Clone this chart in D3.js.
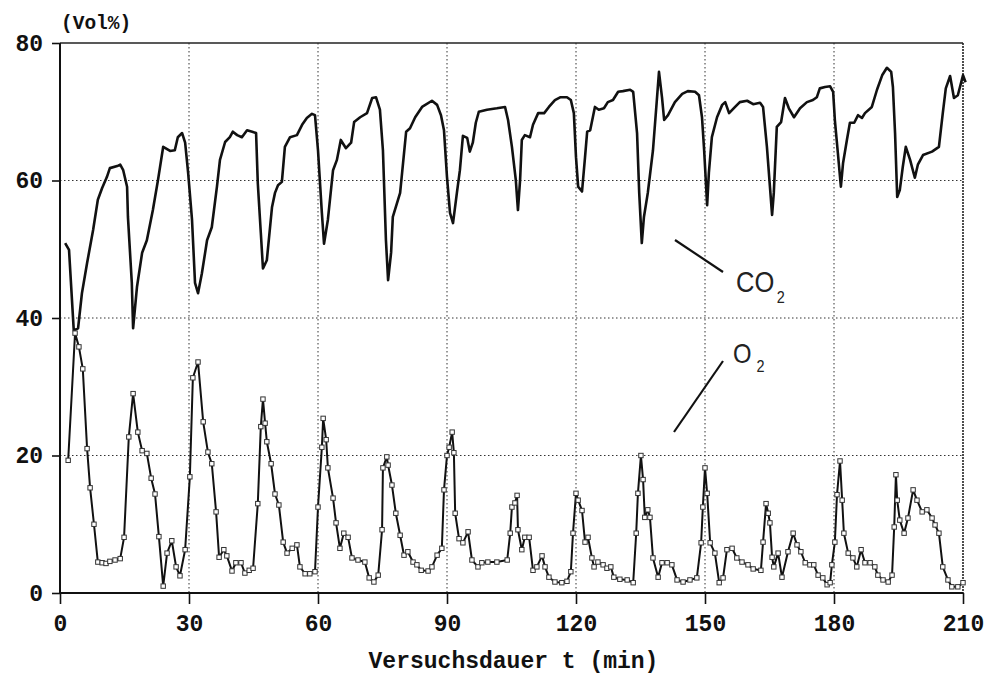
<!DOCTYPE html>
<html>
<head>
<meta charset="utf-8">
<script src="https://cdn.jsdelivr.net/npm/d3@7"></script>
<style>
  body { margin: 0; background: #fff; }
  svg { display: block; }
</style>
</head>
<body>
<div id="chart"></div>
<script>
const co2Time = [1.2, 2.1, 3.2, 4.2, 5.1, 6.3, 7.7, 8.8, 9.8, 10.9, 11.6, 13.3, 14.0, 14.7, 15.6, 15.8, 16.7, 17.0,
  17.9, 19.1, 20.2, 21.6, 22.8, 24.0, 25.6, 26.7, 27.4, 28.4, 29.1, 29.8, 30.7, 31.4, 32.1, 33.0, 34.2, 35.3,
  36.5, 37.2, 38.4, 39.5, 40.2, 41.2, 42.3, 43.5, 44.7, 45.6, 46.0, 46.7, 47.2, 48.1, 49.3, 50.0, 50.7, 51.6,
  52.3, 53.5, 55.1, 56.3, 57.4, 58.6, 59.3, 60.0, 60.9, 61.4, 62.3, 63.5, 64.4, 65.3, 66.5, 67.7, 68.4, 69.8,
  71.4, 72.6, 73.5, 74.4, 75.1, 75.8, 76.3, 77.0, 77.4, 79.1, 80.5, 81.4, 82.6, 84.2, 86.5, 87.7, 88.6, 89.3,
  90.0, 90.7, 91.4, 92.3, 93.0, 93.7, 94.7, 95.3, 96.0, 96.7, 97.4, 99.3, 101.6, 103.5, 104.2, 105.1, 106.0,
  106.5, 107.0, 107.4, 108.1, 109.3, 110.0, 111.2, 112.6, 113.7, 115.1, 116.3, 117.9, 118.8, 119.5, 120.0,
  120.5, 121.4, 122.1, 122.6, 123.3, 124.4, 125.3, 126.5, 127.4, 128.6, 129.8, 130.9, 132.6, 133.3, 134.2,
  134.7, 135.3, 135.8, 136.7, 137.9, 138.8, 139.3, 140.0, 140.5, 141.4, 143.0, 144.7, 146.0, 147.7, 148.6,
  149.3, 149.8, 150.5, 150.9, 151.6, 152.8, 154.0, 154.7, 155.6, 157.0, 158.1, 159.8, 161.2, 162.8, 163.5,
  164.4, 165.1, 165.6, 166.0, 166.7, 167.7, 168.6, 169.5, 170.7, 172.1, 173.7, 175.1, 176.0, 176.7, 177.9,
  179.1, 179.8, 180.2, 180.9, 181.6, 182.1, 183.0, 183.7, 184.7, 185.6, 186.5, 187.2, 188.8, 190.0, 191.2,
  192.3, 193.3, 193.7, 194.2, 194.7, 195.3, 196.0, 196.7, 197.7, 198.8, 199.5, 200.7, 202.8, 204.4, 205.3,
  206.0, 207.0, 207.9, 208.8, 210.0, 210.6];
const co2Vol = [50.9, 49.9, 38.2, 38.5, 43.6, 48.0, 52.8, 57.2, 58.9, 60.5, 61.8, 62.1, 62.3, 61.5, 59.1, 54.7, 45.1, 38.5,
  44.5, 49.5, 51.3, 55.7, 60.1, 64.9, 64.3, 64.4, 66.3, 66.9, 65.5, 61.1, 54.3, 45.1, 43.6, 46.5, 51.3, 53.2,
  59.1, 63.0, 65.6, 66.3, 67.1, 66.6, 66.3, 67.3, 67.1, 66.9, 59.6, 52.4, 47.2, 48.4, 56.1, 58.2, 59.3, 59.8,
  64.9, 66.3, 66.6, 68.1, 69.1, 69.7, 69.5, 64.4, 55.3, 50.8, 54.3, 61.5, 63.0, 65.9, 64.7, 65.5, 68.5, 69.2,
  69.8, 72.0, 72.1, 70.3, 64.4, 51.3, 45.5, 49.5, 54.7, 58.2, 67.1, 67.6, 69.2, 70.7, 71.6, 71.0, 69.5, 67.3,
  60.5, 55.3, 53.8, 58.2, 61.5, 66.5, 66.2, 64.2, 65.5, 68.4, 70.0, 70.3, 70.5, 70.7, 68.8, 64.9, 60.1,
  55.7, 60.1, 65.9, 66.6, 66.3, 68.1, 69.8, 69.8, 70.7, 71.7, 72.1, 72.1, 71.7, 69.8, 63.4,
  59.1, 58.4, 63.4, 67.1, 67.3, 70.7, 70.3, 70.5, 71.4, 71.7, 72.9, 73.0, 73.2, 72.9, 66.9,
  58.2, 50.9, 54.7, 58.2, 64.4, 71.7, 75.8, 72.1, 68.8, 69.5, 71.4, 72.6, 73.0, 72.9, 72.4,
  69.2, 64.4, 56.4, 61.1, 66.3, 69.2, 71.0, 71.4, 69.8, 70.7, 71.4, 71.6, 71.1, 71.3, 70.7,
  64.9, 59.1, 55.0, 58.2, 67.8, 68.5, 72.0, 70.5, 69.2, 70.5, 71.4, 71.7, 72.1, 73.4, 73.6,
  73.7, 72.9, 68.8, 64.0, 59.1, 62.5, 65.9, 68.4, 68.4, 69.5, 69.1, 69.8, 70.7, 73.2, 75.3,
  76.4, 75.8, 73.6, 66.9, 57.6, 58.6, 62.0, 64.9, 63.0, 60.4, 62.3, 63.7, 64.2, 64.9, 69.8,
  73.4, 75.2, 72.0, 72.4, 75.3, 74.3];

const o2Time = [1.9, 3.5, 4.4, 5.3, 6.3, 7.0, 7.9, 8.8, 9.8, 10.7, 11.6, 12.8, 14.0, 14.9, 16.0, 17.0, 18.1, 19.1,
  20.2, 21.2, 22.1, 23.0, 24.0, 24.9, 26.0, 27.0, 27.9, 29.1, 30.2, 30.9, 32.1, 33.3, 34.4, 35.3, 36.3, 37.0,
  38.1, 38.8, 40.0, 40.9, 42.1, 43.0, 44.0, 44.9, 46.0, 46.7, 47.2, 47.7, 48.1, 49.1, 50.0, 50.9, 51.9, 52.8,
  54.0, 55.1, 55.8, 57.0, 58.1, 59.3, 60.0, 60.9, 61.2, 61.9, 62.3, 63.5, 64.2, 65.1, 66.0, 67.0, 67.9, 69.3,
  70.9, 71.9, 73.0, 74.0, 74.9, 75.1, 76.0, 76.3, 77.2, 78.1, 79.1, 80.0, 80.9, 82.1, 83.0, 84.0, 85.6, 86.5,
  87.7, 88.8, 89.3, 90.0, 90.5, 91.2, 91.6, 91.9, 92.8, 93.7, 94.9, 95.8, 97.2, 98.1, 99.5, 101.6, 104.0,
  104.7, 105.1, 105.8, 106.3, 106.5, 107.4, 108.1, 109.1, 110.0, 110.9, 112.1, 112.8, 113.7, 115.1, 116.7,
  117.9, 118.8, 119.3, 120.0, 120.5, 121.4, 122.1, 122.8, 123.7, 124.2, 125.1, 126.3, 127.2, 128.1, 128.8,
  130.2, 131.9, 133.3, 134.0, 134.4, 135.1, 135.6, 136.0, 136.7, 137.2, 137.9, 139.1, 140.0, 141.2, 142.3,
  143.5, 144.9, 146.5, 148.1, 149.1, 149.5, 150.0, 150.5, 151.2, 152.3, 153.3, 154.2, 155.1, 156.3, 157.4,
  158.6, 160.0, 161.2, 163.0, 163.5, 164.2, 164.7, 165.1, 165.6, 166.0, 167.0, 167.9, 169.3, 170.5, 171.4,
  172.3, 173.3, 174.4, 175.3, 176.3, 177.4, 178.4, 179.1, 179.5, 180.2, 180.7, 181.4, 181.9, 182.3, 183.3,
  184.4, 185.3, 186.3, 187.2, 188.4, 189.5, 190.2, 191.4, 192.6, 193.5, 194.0, 194.4, 194.7, 195.3, 196.3,
  197.2, 198.4, 199.3, 200.5, 201.6, 202.8, 203.5, 204.4, 205.3, 206.5, 207.4, 208.8, 210.0];
const o2Vol = [19.3, 37.8, 35.8, 32.6, 21.0, 15.3, 10.0, 4.5, 4.4, 4.3, 4.6, 4.8, 5.0, 8.1, 22.7, 29.0, 23.4, 20.7,
  20.3, 16.7, 14.4, 8.2, 1.0, 5.8, 7.6, 3.8, 2.5, 6.3, 16.9, 31.3, 33.6, 24.9, 20.5, 18.8, 11.8, 5.2,
  6.3, 5.4, 3.2, 4.4, 4.4, 2.9, 3.3, 3.6, 13.0, 24.2, 28.2, 24.7, 22.0, 18.8, 14.4, 12.8, 7.4, 5.8,
  6.5, 7.0, 3.8, 2.8, 2.8, 3.1, 12.5, 21.2, 25.4, 22.3, 18.2, 13.8, 10.2, 6.5, 8.7, 8.1, 5.1, 4.8,
  4.5, 2.2, 1.6, 2.6, 9.2, 18.2, 19.8, 18.6, 15.7, 11.6, 8.4, 5.5, 6.0, 4.5, 4.1, 3.3, 3.2, 3.8,
  5.5, 6.5, 15.0, 20.0, 21.2, 23.4, 20.4, 11.6, 7.9, 7.3, 8.9, 4.8, 3.8, 4.4, 4.5, 4.5, 4.8,
  8.7, 12.5, 13.1, 14.2, 9.2, 6.3, 8.1, 8.1, 3.3, 3.8, 5.4, 3.8, 2.3, 1.6, 1.5,
  1.7, 3.1, 8.7, 14.5, 13.5, 12.0, 7.4, 8.1, 5.1, 3.8, 4.5, 4.1, 3.6, 3.8, 2.3,
  2.0, 1.9, 1.5, 8.7, 14.5, 20.0, 16.5, 11.0, 12.1, 11.0, 5.1, 2.3, 4.4, 4.4, 4.1,
  1.9, 1.6, 1.9, 2.2, 7.3, 12.5, 18.2, 14.5, 7.3, 5.8, 1.5, 2.2, 6.3, 6.5, 5.1,
  4.5, 4.1, 3.5, 3.3, 7.4, 13.0, 11.6, 10.2, 5.2, 3.8, 5.8, 2.3, 6.0, 8.7, 7.0,
  6.0, 4.4, 4.1, 4.1, 2.6, 2.2, 1.2, 1.5, 4.1, 7.4, 14.3, 19.2, 13.5, 8.7, 5.8,
  5.1, 3.8, 6.3, 4.4, 4.4, 3.8, 2.6, 1.9, 1.6, 2.6, 9.6, 17.2, 13.5, 10.6, 8.7,
  10.9, 15.0, 13.5, 11.8, 12.1, 10.9, 9.9, 8.7, 3.8, 1.9, 0.9, 0.9, 1.5];

const xTicks = [0, 30, 60, 90, 120, 150, 180, 210];
const yTicks = [0, 20, 40, 60, 80];

const W = 986, H = 675;
const plot = { left: 60, right: 963, top: 43, bottom: 593 };
const FONT = "'Liberation Mono', 'DejaVu Sans Mono', monospace";

const svg = d3.select("#chart").append("svg")
  .attr("width", W)
  .attr("height", H);

const x = d3.scaleLinear().domain([0, 210]).range([plot.left, plot.right]);
const y = d3.scaleLinear().domain([0, 80]).range([plot.bottom, plot.top]);

// Gitter (punktiert)
svg.append("g")
  .selectAll("line")
  .data(xTicks.slice(1, -1))
  .join("line")
  .attr("x1", d => x(d)).attr("x2", d => x(d))
  .attr("y1", plot.top).attr("y2", plot.bottom)
  .attr("stroke", "#333")
  .attr("stroke-width", 1)
  .attr("stroke-dasharray", "1.5,2.5");

svg.append("g")
  .selectAll("line")
  .data(yTicks.slice(1, -1))
  .join("line")
  .attr("x1", plot.left).attr("x2", plot.right)
  .attr("y1", d => y(d)).attr("y2", d => y(d))
  .attr("stroke", "#333")
  .attr("stroke-width", 1)
  .attr("stroke-dasharray", "1.5,2.5");

// Rahmen oben und rechts
svg.append("line")
  .attr("x1", plot.left).attr("x2", plot.right)
  .attr("y1", plot.top).attr("y2", plot.top)
  .attr("stroke", "#222").attr("stroke-width", 1.6);
svg.append("line")
  .attr("x1", plot.right).attr("x2", plot.right)
  .attr("y1", plot.top).attr("y2", plot.bottom)
  .attr("stroke", "#222").attr("stroke-width", 1.6)
  .attr("stroke-dasharray", "2,1");

// Achsen
const xAxis = svg.append("g")
  .attr("transform", `translate(0, ${plot.bottom})`)
  .call(d3.axisBottom(x).tickValues(xTicks).tickSize(11).tickPadding(14).tickFormat(d3.format("d")));
const yAxis = svg.append("g")
  .attr("transform", `translate(${plot.left}, 0)`)
  .call(d3.axisLeft(y).tickValues(yTicks).tickSize(8).tickPadding(9).tickFormat(d3.format("d")));

[xAxis, yAxis].forEach(ax => {
  ax.select(".domain").attr("stroke", "#111").attr("stroke-width", 2);
  ax.selectAll(".tick line").attr("stroke", "#111").attr("stroke-width", 1.6);
  ax.selectAll(".tick text")
    .attr("fill", "#111")
    .style("font-family", FONT)
    .style("font-size", "23px")
    .style("font-weight", "bold");
});
xAxis.select(".domain").attr("d", `M${plot.left},0H${plot.right}`);
yAxis.select(".domain").attr("d", `M0,${plot.top}V${plot.bottom}`);
xAxis.selectAll(".tick text").attr("dy", "0.55em");

// Achsentitel
svg.append("text")
  .attr("x", (plot.left + plot.right) / 2 + 2)
  .attr("y", 668)
  .attr("text-anchor", "middle")
  .attr("fill", "#111")
  .style("font-family", FONT)
  .style("font-size", "23px")
  .style("font-weight", "bold")
  .text("Versuchsdauer t (min)");

svg.append("text")
  .attr("x", 61)
  .attr("y", 29)
  .attr("fill", "#111")
  .style("font-family", FONT)
  .style("font-size", "19.5px")
  .style("font-weight", "bold")
  .text("(Vol%)");

// Kurven
const co2Data = co2Time.map((t, i) => ({ t, v: co2Vol[i] }));
const o2Data = o2Time.map((t, i) => ({ t, v: o2Vol[i] }));

const line = d3.line().x(d => x(d.t)).y(d => y(d.v));

svg.append("path")
  .datum(co2Data)
  .attr("d", line)
  .attr("fill", "none")
  .attr("stroke", "#111")
  .attr("stroke-width", 2.6)
  .attr("stroke-linejoin", "round");

svg.append("path")
  .datum(o2Data)
  .attr("d", line)
  .attr("fill", "none")
  .attr("stroke", "#111")
  .attr("stroke-width", 2)
  .attr("stroke-linejoin", "round");

svg.append("g")
  .selectAll("rect")
  .data(o2Data)
  .join("rect")
  .attr("x", d => x(d.t) - 2.2)
  .attr("y", d => y(d.v) - 2.2)
  .attr("width", 4.4)
  .attr("height", 4.4)
  .attr("fill", "#fff")
  .attr("stroke", "#333")
  .attr("stroke-width", 1);

// Beschriftung der Kurven
svg.append("line")
  .attr("x1", 675).attr("y1", 240).attr("x2", 723).attr("y2", 272)
  .attr("stroke", "#111").attr("stroke-width", 2.2);
svg.append("line")
  .attr("x1", 674).attr("y1", 432).attr("x2", 723).attr("y2", 361)
  .attr("stroke", "#111").attr("stroke-width", 2.2);

const co2Label = svg.append("text")
  .attr("transform", "translate(736, 292) scale(0.85, 1)")
  .attr("fill", "#222")
  .style("font-family", "'Liberation Sans', Arial, sans-serif")
  .style("font-size", "30px")
  .style("font-weight", "300");
co2Label.append("tspan").text("CO");
co2Label.append("tspan").attr("dx", 3).attr("dy", 11).style("font-size", "17px").text("2");

const o2Label = svg.append("text")
  .attr("transform", "translate(733, 363) scale(0.85, 1)")
  .attr("fill", "#222")
  .style("font-family", "'Liberation Sans', Arial, sans-serif")
  .style("font-size", "28px")
  .style("font-weight", "300");
o2Label.append("tspan").text("O");
o2Label.append("tspan").attr("dx", 6).attr("dy", 9).style("font-size", "17px").text("2");
</script>
</body>
</html>
